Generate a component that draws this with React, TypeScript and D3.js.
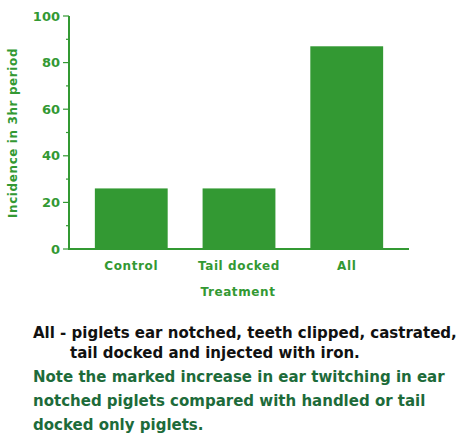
import React from "react";
import * as d3 from "d3";

const categories = ["Control", "Tail docked", "All"];
const incidence = [26, 26, 87];
const majorTicks = [0, 20, 40, 60, 80, 100];
const minorTicks = [10, 30, 50, 70, 90];
const yTitle = "Incidence in 3hr period";
const xTitle = "Treatment";
const noteBlack = ["All - piglets ear notched, teeth clipped, castrated,", "tail docked and injected with iron."];
const noteGreen = [
  "Note the marked increase in ear twitching in ear",
  "notched piglets compared with handled or tail",
  "docked only piglets.",
];

const GREEN = "#339933";
const DARK = "#1d6b3a";
const FONT = "'DejaVu Sans', Verdana, sans-serif";

export default function App() {
  const x = d3.scaleBand<string>().domain(categories).range([69, 409]).paddingInner(0.324).paddingOuter(0.24);
  const y = d3.scaleLinear().domain([0, 100]).range([249, 16]);
  const x0 = 69;
  const x1 = 409;
  return (
    <svg width={466} height={441} style={{ position: "absolute", left: 0, top: 0, background: "#fff" }}>
      {categories.map((c, i) => (
        <rect key={c} x={x(c)} y={y(incidence[i])} width={x.bandwidth()} height={y(0) - y(incidence[i])} fill={GREEN} />
      ))}
      <line x1={x0} x2={x0} y1={y(100)} y2={y(0) + 1} stroke={GREEN} strokeWidth={2} />
      <line x1={x0 - 1} x2={x1} y1={y(0)} y2={y(0)} stroke={GREEN} strokeWidth={2} />
      {majorTicks.map((t) => (
        <g key={t}>
          <line x1={x0 - 6} x2={x0} y1={y(t)} y2={y(t)} stroke={GREEN} strokeWidth={1.2} />
          <text x={60} y={y(t)} dy="0.35em" textAnchor="end" fill={GREEN} fontFamily={FONT} fontWeight="bold" fontSize={13}>
            {t}
          </text>
        </g>
      ))}
      {minorTicks.map((t) => (
        <line key={t} x1={x0 - 3} x2={x0} y1={y(t)} y2={y(t)} stroke={GREEN} strokeWidth={1.2} />
      ))}
      {categories.map((c) => (
        <text key={c} x={(x(c) as number) + x.bandwidth() / 2} y={270} textAnchor="middle" fill={GREEN} fontFamily={FONT} fontWeight="bold" fontSize={12} letterSpacing={0.6}>
          {c}
        </text>
      ))}
      <text x={238} y={296} textAnchor="middle" fill={GREEN} fontFamily={FONT} fontWeight="bold" fontSize={12} letterSpacing={0.6}>
        {xTitle}
      </text>
      <text transform={`translate(17,133) rotate(-90)`} textAnchor="middle" fill={GREEN} fontFamily={FONT} fontWeight="bold" fontSize={12} letterSpacing={0.6}>
        {yTitle}
      </text>
      <text x={33} y={338} fill="#111" fontFamily={FONT} fontWeight="600" fontSize={15}>{noteBlack[0]}</text>
      <text x={70} y={358} fill="#111" fontFamily={FONT} fontWeight="600" fontSize={15}>{noteBlack[1]}</text>
      {noteGreen.map((s, i) => (
        <text key={i} x={33} y={382 + i * 24} fill={DARK} fontFamily={FONT} fontWeight="600" fontSize={15}>
          {s}
        </text>
      ))}
    </svg>
  );
}
